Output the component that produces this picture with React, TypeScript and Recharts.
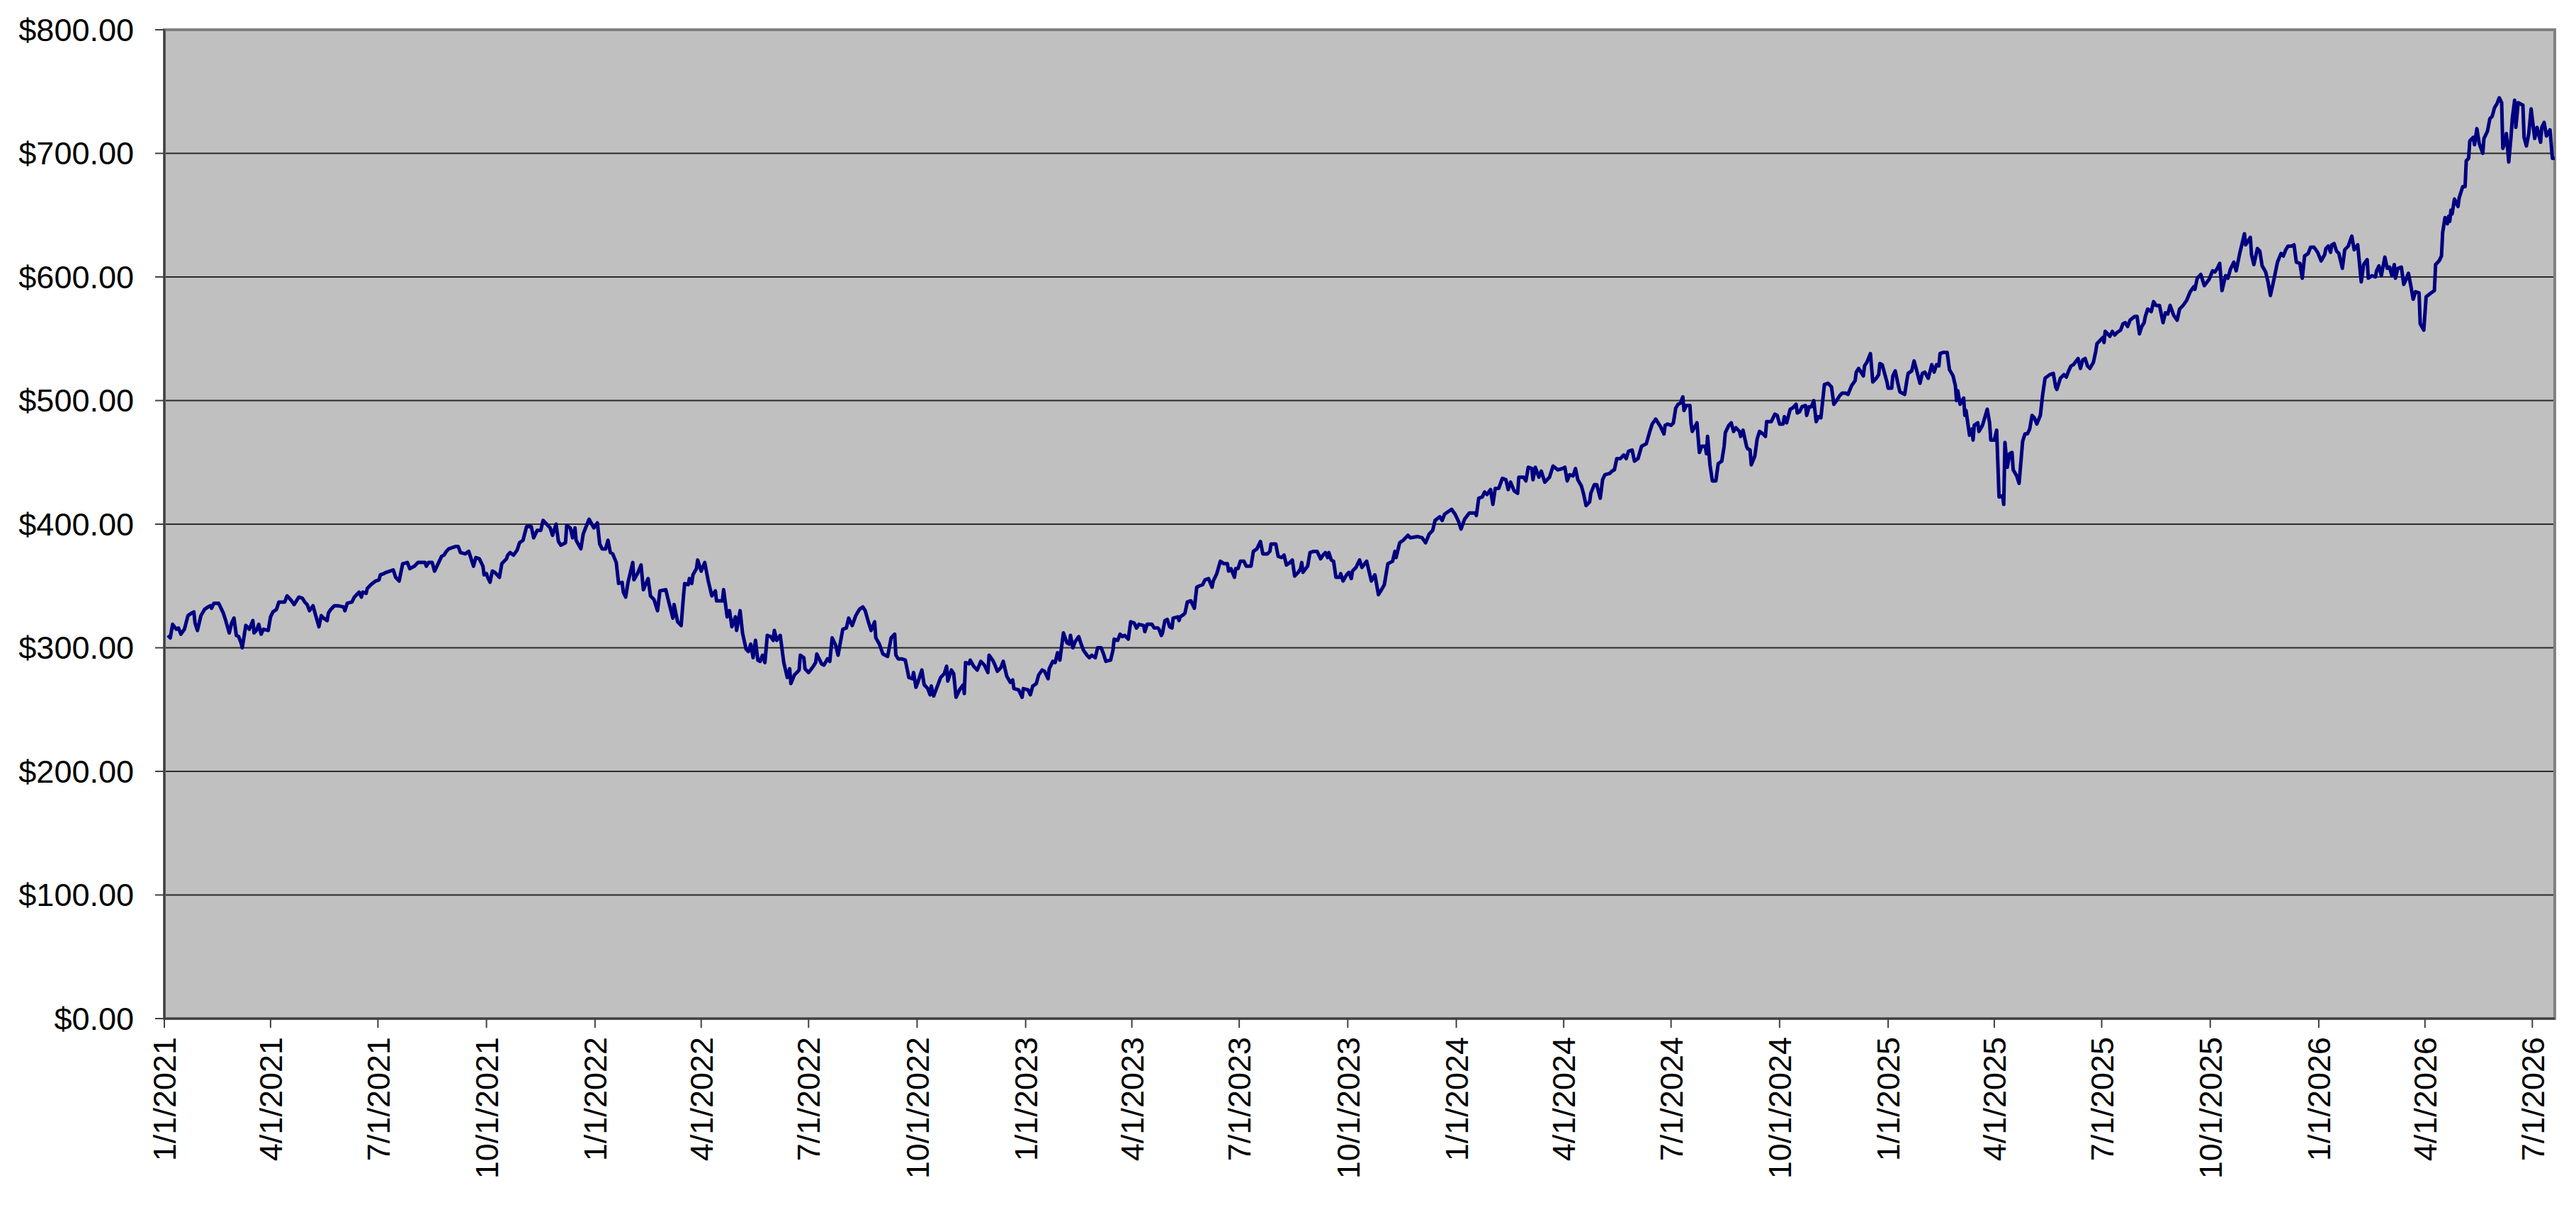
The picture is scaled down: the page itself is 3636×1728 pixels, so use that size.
import { LineChart, Line, XAxis, YAxis, CartesianGrid, ReferenceArea } from 'recharts';

// [days since 1/1/2021, closing price]
const y2021: [number, number][] = [
  [3, 310], [5, 308], [7, 319], [10, 315], [12, 316], [14, 311], [17, 315], [20, 326], [23, 328], [25, 329],
  [26, 320], [28, 314], [30, 322], [31, 326], [34, 331], [37, 333], [39, 334], [40, 332], [42, 336], [46, 336],
  [48, 332], [50, 328], [52, 322], [55, 312], [57, 320], [59, 324], [61, 310], [63, 309], [65, 304], [66, 300],
  [68, 312], [69, 318], [72, 315], [75, 322], [76, 312], [78, 314], [80, 319], [82, 311], [84, 315], [88, 314],
  [90, 325], [92, 329], [95, 331], [97, 337], [102, 337], [104, 342], [107, 339], [110, 335], [114, 341], [117, 340],
  [119, 337], [121, 335], [123, 330], [126, 334], [128, 327], [131, 317], [133, 326], [135, 324], [138, 322], [139, 328],
  [141, 331], [144, 334], [147, 334], [152, 333], [153, 330], [155, 336], [159, 337], [161, 341], [165, 345], [167, 341],
  [168, 345], [171, 344], [172, 348], [175, 351], [179, 354], [182, 355], [183, 359], [186, 360], [188, 361], [191, 362],
  [194, 363], [196, 357], [199, 354], [202, 368], [206, 369], [208, 364], [212, 366], [215, 369], [221, 369], [222, 366],
  [224, 369], [227, 369], [229, 362], [232, 368], [235, 374], [237, 375], [239, 378], [241, 380], [247, 382], [249, 382],
  [251, 377], [255, 376], [258, 378], [260, 372], [262, 366], [264, 373], [267, 372], [270, 366], [271, 359], [273, 360],
  [274, 357], [276, 353], [278, 362], [280, 361], [284, 357], [286, 368], [288, 370], [290, 372], [291, 375], [293, 377],
  [296, 375], [299, 379], [301, 385], [304, 387], [307, 398], [311, 398], [313, 389], [314, 391], [316, 395], [319, 395],
  [321, 403], [325, 399], [327, 397], [329, 391], [332, 400], [334, 386], [336, 383], [340, 385], [341, 399], [344, 397],
  [346, 389], [348, 397], [349, 387], [353, 380], [355, 392], [357, 397], [360, 404], [364, 397],
];

const y2022: [number, number][] = [
  [367, 401], [369, 384], [371, 380], [374, 380], [376, 387], [378, 377], [380, 376], [383, 369], [385, 352], [388, 353],
  [389, 345], [391, 341], [393, 353], [397, 369], [398, 355], [401, 360], [404, 367], [406, 347], [410, 356], [412, 342],
  [415, 339], [418, 330], [420, 346], [425, 347], [427, 339], [431, 324], [432, 335], [435, 321], [438, 318], [440, 342],
  [441, 352], [444, 351], [445, 356], [447, 352], [448, 359], [451, 364], [452, 371], [455, 362], [458, 369], [461, 354],
  [464, 342], [467, 346], [468, 338], [473, 338], [474, 347], [477, 325], [479, 330], [481, 317], [484, 325], [485, 314],
  [488, 330], [490, 312], [493, 299], [495, 297], [497, 303], [499, 292], [501, 306], [503, 290], [505, 289], [507, 294],
  [509, 288], [511, 310], [514, 309], [516, 306], [517, 314], [519, 306], [522, 310], [525, 288], [528, 276], [530, 283],
  [531, 271], [534, 278], [538, 282], [539, 294], [542, 292], [543, 283], [546, 280], [550, 285], [552, 288], [553, 295],
  [557, 287], [559, 286], [562, 291], [564, 289], [566, 308], [569, 302], [571, 294], [575, 315], [578, 316], [580, 324],
  [583, 318], [586, 326], [589, 331], [592, 333], [594, 330], [597, 320], [599, 314], [602, 321], [603, 308], [606, 303],
  [609, 295], [613, 293], [616, 308], [619, 311], [620, 294], [622, 291], [625, 291], [628, 290], [631, 276], [634, 275],
  [635, 280], [637, 268], [639, 273], [642, 282], [644, 270], [647, 267], [649, 262], [650, 269], [652, 261], [656, 271],
  [658, 276], [661, 279], [663, 285], [664, 273], [667, 282], [669, 279], [671, 260], [674, 266], [677, 270], [678, 263],
  [679, 288], [682, 287], [683, 290], [686, 285], [689, 282], [692, 289], [695, 286], [698, 280], [699, 294], [702, 290],
  [704, 286], [706, 281], [709, 284], [711, 289], [714, 277], [717, 272], [719, 274], [720, 267], [724, 266], [727, 260],
  [728, 267],
];

const y2023: [number, number][] = [
  [732, 266], [734, 262], [736, 269], [739, 271], [741, 278], [744, 282], [746, 281], [749, 275], [750, 283], [753, 289],
  [755, 288], [757, 296], [759, 290], [762, 312], [765, 304], [767, 303], [768, 310], [770, 300], [772, 305], [775, 309],
  [777, 303], [779, 298], [782, 294], [784, 292], [786, 294], [789, 292], [791, 300], [794, 300], [796, 295], [798, 289],
  [802, 290], [804, 298], [805, 307], [808, 306], [810, 311], [812, 309], [814, 310], [817, 307], [819, 321], [822, 320],
  [824, 316], [826, 319], [830, 318], [831, 313], [833, 319], [837, 319], [839, 316], [842, 316], [843, 315], [845, 310],
  [846, 312], [848, 322], [850, 323], [852, 317], [854, 316], [855, 324], [859, 325], [860, 322], [861, 325], [864, 327],
  [865, 328], [867, 337], [870, 338], [873, 332], [875, 349], [877, 350], [880, 351], [882, 355], [885, 356], [888, 349],
  [889, 354], [892, 360], [895, 370], [898, 368], [901, 368], [902, 362], [904, 364], [907, 357], [908, 364], [910, 364],
  [912, 370], [915, 370], [917, 366], [921, 366], [923, 378], [926, 380], [929, 386], [931, 376], [935, 376], [937, 378],
  [938, 384], [942, 384], [944, 374], [947, 373], [949, 375], [951, 367], [954, 369], [956, 371], [958, 358], [961, 361],
  [963, 364], [964, 369], [965, 361], [969, 366], [971, 377], [974, 378], [977, 378], [980, 372], [982, 375], [984, 377],
  [986, 373], [987, 377], [989, 371], [991, 370], [993, 357], [996, 357], [997, 360], [999, 354], [1002, 359], [1004, 361],
  [1006, 356], [1007, 362], [1010, 365], [1013, 371], [1015, 365], [1019, 370], [1023, 354], [1026, 359], [1029, 343], [1031, 346],
  [1034, 351], [1037, 368], [1041, 370], [1043, 378], [1044, 373], [1047, 385], [1050, 387], [1054, 391], [1056, 389], [1062, 390],
  [1066, 389], [1069, 385], [1072, 392], [1075, 395], [1077, 403], [1081, 406], [1083, 403], [1085, 408], [1088, 410], [1091, 412],
  [1094, 408],
];

const y2024: [number, number][] = [
  [1097, 402], [1099, 396], [1102, 404], [1106, 409], [1111, 409], [1112, 407], [1114, 421], [1117, 422], [1119, 426], [1121, 424],
  [1124, 428], [1126, 416], [1128, 429], [1131, 429], [1134, 437], [1137, 436], [1139, 428], [1141, 434], [1144, 427], [1147, 425],
  [1148, 438], [1152, 438], [1154, 435], [1156, 446], [1159, 445], [1160, 436], [1162, 446], [1165, 438], [1167, 443], [1170, 434],
  [1174, 438], [1177, 447], [1181, 444], [1185, 445], [1187, 446], [1189, 435], [1191, 440], [1194, 439], [1196, 445], [1198, 436],
  [1201, 431], [1203, 424], [1205, 415], [1208, 418], [1209, 425], [1212, 432], [1214, 432], [1217, 421], [1219, 436], [1221, 440],
  [1225, 441], [1227, 443], [1229, 444], [1231, 453], [1234, 453], [1237, 456], [1239, 453], [1241, 459], [1244, 460], [1246, 451],
  [1249, 453], [1252, 463], [1256, 465], [1259, 475], [1261, 481], [1264, 485], [1268, 479], [1271, 473], [1272, 480], [1274, 481],
  [1277, 480], [1279, 482], [1281, 494], [1283, 497], [1285, 498], [1287, 503], [1288, 492], [1290, 496], [1293, 496], [1294, 481],
  [1295, 475], [1299, 482], [1301, 458], [1303, 463], [1306, 463], [1307, 457], [1308, 471], [1310, 448], [1312, 435], [1315, 435],
  [1317, 449], [1320, 451], [1322, 463], [1323, 474], [1326, 480], [1328, 482], [1330, 475], [1332, 478], [1335, 475], [1336, 471],
  [1338, 476], [1341, 463], [1342, 461], [1344, 460], [1345, 448], [1348, 455], [1350, 469], [1352, 475], [1355, 473], [1357, 471],
  [1358, 483], [1362, 483], [1365, 489], [1367, 488], [1369, 481], [1372, 481], [1373, 487], [1375, 482], [1378, 493], [1380, 494],
  [1383, 497], [1384, 490], [1386, 491], [1388, 495], [1391, 496], [1392, 488], [1394, 495], [1396, 495], [1398, 500], [1400, 483],
  [1402, 487], [1404, 486], [1407, 513], [1410, 514], [1413, 511], [1415, 497], [1418, 501], [1420, 504], [1422, 506], [1425, 506],
  [1427, 505], [1430, 512], [1433, 516], [1434, 523], [1436, 526], [1440, 520], [1441, 528], [1443, 531], [1446, 538], [1448, 515],
  [1451, 518], [1453, 521], [1454, 530], [1456, 529], [1458, 522], [1460, 515],
];

const y2025: [number, number][] = [
  [1461, 510], [1464, 510], [1465, 520], [1467, 524], [1469, 515], [1471, 507], [1475, 505], [1477, 517], [1478, 522], [1481, 524],
  [1483, 532], [1485, 525], [1488, 514], [1490, 522], [1492, 523], [1495, 518], [1498, 529], [1500, 523], [1502, 529], [1504, 528],
  [1505, 538], [1508, 539], [1511, 539], [1513, 525], [1516, 520], [1518, 512], [1519, 500], [1520, 508], [1522, 497], [1525, 502],
  [1526, 488], [1527, 492], [1530, 472], [1532, 477], [1533, 468], [1534, 480], [1537, 482], [1538, 475], [1541, 480], [1545, 493],
  [1547, 482], [1548, 468], [1551, 468], [1553, 476], [1555, 422], [1558, 423], [1559, 416], [1560, 466], [1562, 446], [1564, 457],
  [1566, 458], [1567, 444], [1570, 439], [1572, 433], [1575, 467], [1577, 473], [1579, 473], [1581, 477], [1583, 488], [1585, 486],
  [1587, 481], [1590, 488], [1592, 505], [1594, 518], [1598, 521], [1601, 522], [1603, 511], [1604, 509], [1607, 518], [1610, 521],
  [1612, 519], [1614, 524], [1616, 528], [1618, 529], [1622, 534], [1624, 526], [1626, 533], [1628, 534], [1630, 528], [1632, 526],
  [1635, 531], [1637, 540], [1638, 546], [1641, 549], [1643, 551], [1644, 547], [1645, 556], [1649, 552], [1651, 556], [1653, 553],
  [1655, 555], [1658, 557], [1660, 562], [1662, 563], [1664, 560], [1666, 565], [1670, 568], [1672, 568], [1674, 554], [1676, 560],
  [1678, 563], [1679, 568], [1681, 574], [1684, 572], [1686, 580], [1688, 577], [1691, 577], [1694, 563], [1696, 571], [1698, 570],
  [1700, 577], [1703, 569], [1706, 565], [1708, 574], [1711, 577], [1714, 581], [1717, 588], [1720, 592], [1721, 590], [1723, 599],
  [1726, 602], [1729, 593], [1733, 598], [1736, 605], [1738, 604], [1740, 607], [1742, 611], [1744, 589], [1747, 601], [1749, 599],
  [1751, 606], [1754, 612], [1756, 605], [1759, 619], [1763, 635], [1764, 626], [1768, 632], [1769, 618], [1771, 610], [1774, 623],
  [1776, 621], [1778, 609], [1781, 604], [1783, 596], [1785, 585], [1788, 598], [1791, 612], [1794, 619], [1796, 617], [1798, 622],
  [1800, 625], [1803, 625], [1805, 626], [1807, 612], [1810, 611], [1812, 599], [1814, 617], [1817, 619], [1819, 624], [1822, 624],
  [1825, 620],
];

const y2026: [number, number][] = [
  [1828, 613], [1831, 618], [1832, 623], [1834, 625], [1836, 620], [1837, 626], [1839, 627], [1841, 621], [1843, 619], [1846, 607],
  [1848, 622], [1851, 625], [1854, 633], [1856, 622], [1859, 626], [1862, 596], [1864, 610], [1867, 614], [1868, 599], [1871, 601],
  [1874, 600], [1875, 605], [1877, 609], [1879, 601], [1882, 616], [1884, 607], [1886, 608], [1888, 601], [1890, 610], [1891, 599],
  [1893, 607], [1896, 608], [1898, 594], [1900, 598], [1902, 603], [1904, 593], [1906, 582], [1908, 588], [1911, 587], [1912, 562],
  [1915, 557], [1917, 584], [1921, 587], [1924, 589], [1925, 610], [1928, 613], [1930, 617], [1931, 636], [1933, 648], [1935, 643],
  [1936, 649], [1937, 645], [1938, 654], [1939, 651], [1941, 663], [1944, 657], [1945, 664], [1948, 673], [1950, 673], [1951, 694],
  [1953, 696], [1954, 710], [1957, 713], [1958, 707], [1960, 720], [1962, 708], [1965, 700], [1966, 712], [1969, 718], [1971, 728],
  [1973, 730], [1975, 737], [1977, 740], [1979, 745], [1981, 741], [1982, 704], [1984, 710], [1985, 716], [1987, 693], [1989, 714],
  [1990, 728], [1992, 743], [1993, 721], [1995, 741], [1997, 740], [1999, 739], [2000, 713], [2002, 706], [2004, 716], [2006, 736],
  [2009, 712], [2011, 721], [2014, 709], [2015, 721], [2017, 725], [2019, 714], [2022, 719], [2024, 696], [2026, 696],
];

const dateTicks = [
  '1/1/2021', '4/1/2021', '7/1/2021', '10/1/2021',
  '1/1/2022', '4/1/2022', '7/1/2022', '10/1/2022',
  '1/1/2023', '4/1/2023', '7/1/2023', '10/1/2023',
  '1/1/2024', '4/1/2024', '7/1/2024', '10/1/2024',
  '1/1/2025', '4/1/2025', '7/1/2025', '10/1/2025',
  '1/1/2026', '4/1/2026', '7/1/2026',
];

const priceTicks = [0, 100, 200, 300, 400, 500, 600, 700, 800];

const lastDay = 2026;
const START = Date.UTC(2021, 0, 1);
const DAY_MS = 86400000;

const toDay = (label: string) => {
  const [m, d, y] = label.split('/').map(Number);
  return Math.round((Date.UTC(y, m - 1, d) - START) / DAY_MS);
};

const tickDays = dateTicks.map(toDay);
const labelByDay: Record<number, string> = {};
dateTicks.forEach((label, i) => {
  labelByDay[tickDays[i]] = label;
});

const data = [...y2021, ...y2022, ...y2023, ...y2024, ...y2025, ...y2026].map(([day, price]) => ({ day, price }));

const FONT = 'Liberation Sans, Arial, sans-serif';

function DateTick({ x, y, payload }: any) {
  return (
    <text
      x={x}
      y={y}
      dy="0.36em"
      transform={`rotate(-90 ${x} ${y})`}
      textAnchor="end"
      fontSize={45}
      fontFamily={FONT}
      fill="#000"
    >
      {labelByDay[payload.value]}
    </text>
  );
}

export default function App() {
  return (
    <div style={{ position: 'absolute', left: 0, top: 0, background: '#fff' }}>
      <LineChart
        width={3636}
        height={1728}
        data={data}
        margin={{ top: 42, right: 30, bottom: 0, left: 0 }}
      >
        <CartesianGrid vertical={false} fill="#C0C0C0" stroke="#2b2b2b" strokeWidth={2} />
        <XAxis
          dataKey="day"
          type="number"
          domain={[0, lastDay]}
          ticks={tickDays}
          interval={0}
          height={290}
          tickSize={13}
          tickMargin={13}
          axisLine={{ stroke: '#404040', strokeWidth: 3 }}
          tickLine={{ stroke: '#404040', strokeWidth: 2 }}
          tick={<DateTick />}
        />
        <YAxis
          type="number"
          domain={[0, 800]}
          ticks={priceTicks}
          interval={0}
          width={232}
          tickSize={13}
          tickMargin={30}
          axisLine={{ stroke: '#404040', strokeWidth: 3 }}
          tickLine={{ stroke: '#404040', strokeWidth: 2 }}
          tick={{ fontSize: 45, fontFamily: FONT, fill: '#000' }}
          tickFormatter={(v: number) => `$${v.toFixed(2)}`}
        />
        <ReferenceArea
          x1={0}
          x2={lastDay}
          y1={0}
          y2={800}
          fill="none"
          fillOpacity={0}
          stroke="#808080"
          strokeWidth={4}
        />
        <Line
          type="linear"
          dataKey="price"
          stroke="#000080"
          strokeWidth={5}
          strokeLinejoin="round"
          dot={false}
          activeDot={false}
          isAnimationActive={false}
        />
      </LineChart>
    </div>
  );
}
